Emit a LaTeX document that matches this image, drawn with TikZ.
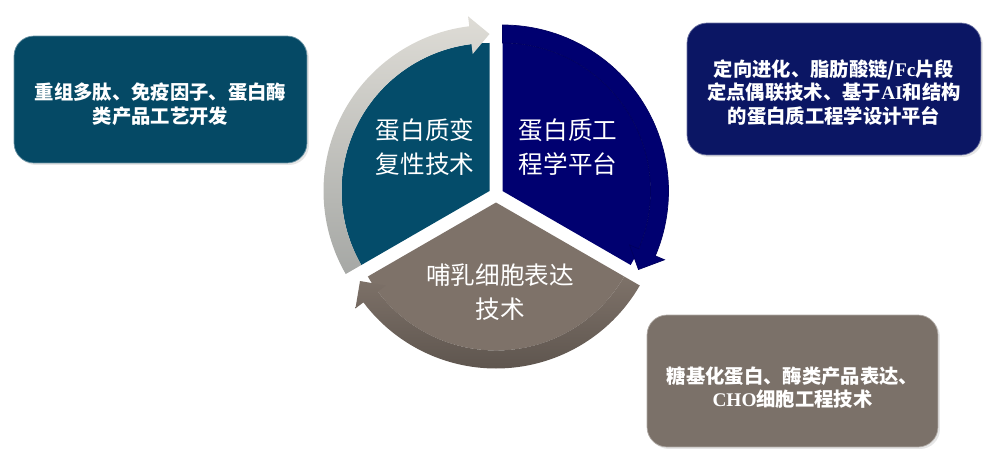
\documentclass[tikz,border=0pt]{standalone}
\usepackage{fontspec}
\setmainfont{Noto Sans CJK SC}
\newfontfamily\latin{Liberation Serif}
\usetikzlibrary{positioning,shadows}

\definecolor{tealpie}{RGB}{4,76,106}
\definecolor{navypie}{RGB}{0,0,112}
\definecolor{brownpie}{RGB}{126,114,105}
\definecolor{grayhi}{RGB}{222,220,214}
\definecolor{graylo}{RGB}{166,168,165}
\definecolor{tealbox}{RGB}{5,73,101}
\definecolor{navybox}{RGB}{11,22,100}
\definecolor{brownbox}{RGB}{123,113,105}

\begin{document}
\begin{tikzpicture}[x=0.02cm,y=0.02cm,
	infobox/.style={rounded corners=0.4cm, draw=#1!60!white, fill=#1,
		drop shadow={opacity=0.2,shadow xshift=0.04cm,shadow yshift=-0.04cm}},
	boxtext/.style={text=white, font=\bfseries\fontsize{11}{13.5}\selectfont, align=center},
	pietext/.style={text=white, font=\fontsize{14}{19}\selectfont, align=center}]
		\useasboundingbox (0,0) rectangle (1000,457);
		% sectors
		\fill [tealpie] (489.5,266) -- ++(90:148) arc[start angle=90, end angle=210, radius=148] -- cycle;
		\fill [navypie] (502.5,266) -- ++(90:148) arc[start angle=90, end angle=-30, radius=148] -- cycle;
		\fill [brownpie] (496,254.5) -- ++(210:148) arc[start angle=210, end angle=330, radius=148] -- cycle;
		% ring arrows
		\shade [top color=grayhi, bottom color=graylo, shift={(489.5,266)}]
			(210:166) arc[start angle=210, end angle=97, radius=166] -- (97:176) -- (90:157)
			-- (97:138) -- (97:148) arc[start angle=97, end angle=210, radius=148] -- cycle;
		\filldraw [fill=navypie, draw=navypie!85!black, thin, shift={(502.5,266)}]
			(90:166) arc[start angle=90, end angle=-23, radius=166] -- (-23:176) -- (-30:157)
			-- (-23:138) -- (-23:148) arc[start angle=-23, end angle=90, radius=148] -- cycle;
		\shade [top color=brownpie, bottom color=brownpie!75!black, shift={(496,254.5)}]
			(330:166) arc[start angle=330, end angle=217, radius=166] -- (217:176) -- (210:157)
			-- (217:138) -- (217:148) arc[start angle=217, end angle=330, radius=148] -- cycle;
		% labels in the pie
		\node [pietext] (refold) at (425,310) {蛋白质变\\复性技术};
		\node [pietext] (engplat) at (568,310) {蛋白质工\\程学平台};
		\node [pietext] (mammal) at (500,165) {哺乳细胞表达\\技术};
		% boxes
		\node [infobox=tealbox, minimum width=5.86cm, minimum height=2.54cm] (peptide) at (160.5,357.5) {};
		\node [infobox=navybox, minimum width=5.88cm, minimum height=2.64cm] (design) at (834,368) {};
		\node [infobox=brownbox, minimum width=5.82cm, minimum height=2.64cm] (glyco) at (792.5,76) {};
		\node [boxtext] (peptidetext) at ([yshift=-0.09cm]peptide.center)
			{重组多肽、免疫因子、蛋白酶\\类产品工艺开发};
		\node [boxtext] (designtext) at ([yshift=-0.07cm]design.center)
			{定向进化、脂肪酸链/{\latin Fc}片段\\定点偶联技术、基于{\latin AI}和结构\\的蛋白质工程学设计平台};
		\node [boxtext] (glycotext) at ([yshift=-0.13cm]glyco.center)
			{糖基化蛋白、酶类产品表达、\\{\latin CHO}细胞工程技术};
		\end{tikzpicture}
\end{document}
